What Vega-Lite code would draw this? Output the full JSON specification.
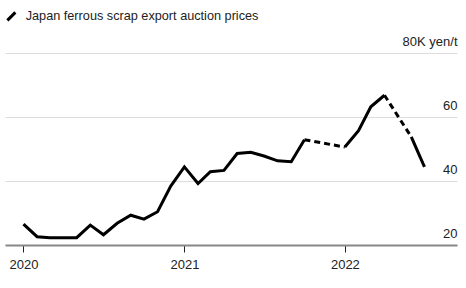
{
  "$schema": "https://vega.github.io/schema/vega-lite/v6.json",
  "autosize": "none",
  "width": 452,
  "height": 192,
  "padding": {"left": 5, "top": 53, "right": 9, "bottom": 43},
  "background": "white",
  "config": {
    "view": {"stroke": null},
    "font": "Liberation Sans"
  },
  "data": {
    "values": [
      {"date": "2020-01-01", "price": 26.5, "seg": "a"},
      {"date": "2020-02-01", "price": 22.6, "seg": "a"},
      {"date": "2020-03-01", "price": 22.3, "seg": "a"},
      {"date": "2020-04-01", "price": 22.3, "seg": "a"},
      {"date": "2020-05-01", "price": 22.3, "seg": "a"},
      {"date": "2020-06-01", "price": 26.2, "seg": "a"},
      {"date": "2020-07-01", "price": 23.2, "seg": "a"},
      {"date": "2020-08-01", "price": 26.8, "seg": "a"},
      {"date": "2020-09-01", "price": 29.3, "seg": "a"},
      {"date": "2020-10-01", "price": 28.1, "seg": "a"},
      {"date": "2020-11-01", "price": 30.4, "seg": "a"},
      {"date": "2020-12-01", "price": 38.4, "seg": "a"},
      {"date": "2021-01-01", "price": 44.4, "seg": "a"},
      {"date": "2021-02-01", "price": 39.2, "seg": "a"},
      {"date": "2021-03-01", "price": 42.9, "seg": "a"},
      {"date": "2021-04-01", "price": 43.3, "seg": "a"},
      {"date": "2021-05-01", "price": 48.6, "seg": "a"},
      {"date": "2021-06-01", "price": 49.0, "seg": "a"},
      {"date": "2021-07-01", "price": 47.8, "seg": "a"},
      {"date": "2021-08-01", "price": 46.3, "seg": "a"},
      {"date": "2021-09-01", "price": 46.0, "seg": "a"},
      {"date": "2021-10-01", "price": 52.9, "seg": "a"},
      {"date": "2021-10-01", "price": 52.9, "seg": "d1"},
      {"date": "2022-01-01", "price": 50.6, "seg": "d1"},
      {"date": "2022-01-01", "price": 50.6, "seg": "b"},
      {"date": "2022-02-01", "price": 55.7, "seg": "b"},
      {"date": "2022-03-01", "price": 63.2, "seg": "b"},
      {"date": "2022-04-01", "price": 66.8, "seg": "b"},
      {"date": "2022-04-01", "price": 66.8, "seg": "d2"},
      {"date": "2022-06-01", "price": 53.8, "seg": "d2"},
      {"date": "2022-06-01", "price": 53.8, "seg": "c"},
      {"date": "2022-07-01", "price": 44.4, "seg": "c"}
    ]
  },
  "encoding": {
    "x": {
      "field": "date",
      "type": "temporal",
      "scale": {"type": "utc", "domain": [{"year": 2019, "month": 11, "date": 20, "utc": true}, {"year": 2022, "month": 9, "date": 13, "utc": true}]},
      "axis": {
        "title": null,
        "format": "%Y",
        "tickCount": {"interval": "year", "step": 1},
        "grid": false,
        "domainColor": "#888888",
        "domainWidth": 2,
        "tickColor": "#222222",
        "tickWidth": 1,
        "tickSize": 7,
        "labelFontSize": 13,
        "labelColor": "#222222",
        "labelPadding": 6,
        "labelFlush": false
      }
    },
    "y": {
      "field": "price",
      "type": "quantitative",
      "scale": {"domain": [20, 80], "nice": false, "zero": false},
      "axis": {
        "title": null,
        "orient": "right",
        "values": [20, 40, 60, 80],
        "domain": false,
        "ticks": false,
        "tickSize": 0,
        "grid": true,
        "gridColor": "#dddddd",
        "gridWidth": 1,
        "labelAlign": "right",
        "labelBaseline": "alphabetic",
        "labelPadding": 0,
        "labelOffset": -8,
        "labelFontSize": 13,
        "labelColor": "#222222",
        "labelExpr": "datum.value == 80 ? '80K yen/t' : datum.label"
      }
    }
  },
  "layer": [
    {
      "transform": [{"filter": "datum.seg == 'a' || datum.seg == 'b' || datum.seg == 'c'"}],
      "mark": {"type": "line", "strokeWidth": 3},
      "encoding": {
        "detail": {"field": "seg", "type": "nominal"},
        "color": {
          "datum": "Japan ferrous scrap export auction prices",
          "type": "nominal",
          "scale": {"range": ["#000000"]},
          "legend": {
            "title": null,
            "orient": "none",
            "legendX": 0,
            "legendY": -43,
            "symbolType": "M-1,1L1,-1",
            "symbolSize": 64,
            "symbolStrokeWidth": 3,
            "symbolStrokeColor": "#000000",
            "labelFontSize": 12.7,
            "labelColor": "#222222",
            "labelOffset": 8,
            "labelLimit": 500,
            "padding": 0
          }
        }
      }
    },
    {
      "transform": [{"filter": "datum.seg == 'd1' || datum.seg == 'd2'"}],
      "mark": {"type": "line", "strokeWidth": 3, "color": "#000000", "strokeDash": [6, 4]},
      "encoding": {
        "detail": {"field": "seg", "type": "nominal"}
      }
    }
  ]
}
